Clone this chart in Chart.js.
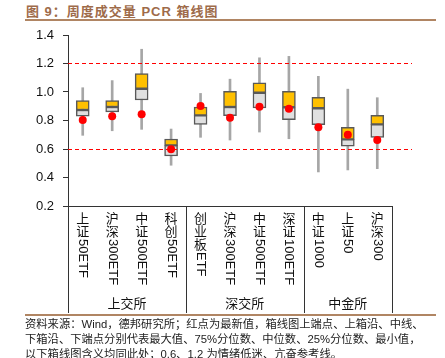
<!DOCTYPE html>
<html>
<head>
<meta charset="utf-8">
<script src="https://cdn.jsdelivr.net/npm/chart.js@4"></script>
<style>
  body { margin: 0; background: #fff; }
  #wrap { position: relative; width: 445px; height: 358px; overflow: hidden; font-family: "Liberation Sans", "Noto Sans CJK SC", sans-serif; }
  #title { position: absolute; left: 26px; top: 1px; font-size: 13px; font-weight: bold; color: #9e6b4a; letter-spacing: 1px; white-space: nowrap; }
  .rule { position: absolute; left: 25px; width: 411px; height: 2px; background: #b08563; }
  #note { position: absolute; left: 25px; top: 317px; font-size: 11.3px; line-height: 15px; color: #222; white-space: nowrap; }
  canvas { position: absolute; left: 0; top: 0; }
</style>
</head>
<body>
<div id="wrap">
  <div id="title">图 9：周度成交量 PCR 箱线图</div>
  <div class="rule" style="top:19px"></div>
  <canvas id="box" width="445" height="358"></canvas>
  <div class="rule" style="top:314px"></div>
  <div id="note">资料来源：Wind，德邦研究所；红点为最新值，箱线图上端点、上箱沿、中线、<br>下箱沿、下端点分别代表最大值、75%分位数、中位数、25%分位数、最小值，<br>以下箱线图含义均同此处；0.6、1.2 为情绪低迷、亢奋参考线。</div>
</div>
<script>
// --- Data ---
const labels = ["上证50ETF", "沪深300ETF", "中证500ETF", "科创50ETF", "创业板ETF", "沪深300ETF", "中证500ETF", "深证100ETF", "中证1000", "上证50", "沪深300"];
const groups = ["上交所", "深交所", "中金所"];
const groupSizes = [4, 4, 3];
const maxVals = [1.03, 1.08, 1.30, 0.74, 0.99, 1.09, 1.24, 1.25, 1.11, 1.02, 0.96];
const q3Vals = [0.94, 0.94, 1.13, 0.67, 0.895, 1.005, 1.065, 1.005, 0.963, 0.752, 0.836];
const medVals = [0.874, 0.895, 1.023, 0.626, 0.836, 0.895, 0.995, 0.893, 0.886, 0.668, 0.773];
const q1Vals = [0.831, 0.86, 0.944, 0.551, 0.773, 0.834, 0.888, 0.806, 0.771, 0.619, 0.682];
const minVals = [0.696, 0.728, 0.738, 0.486, 0.682, 0.663, 0.719, 0.672, 0.439, 0.453, 0.462];
const latestVals = [0.803, 0.829, 0.843, 0.598, 0.902, 0.82, 0.897, 0.883, 0.752, 0.70, 0.663];
const refLines = [0.6, 1.2];

// --- Plugins ---
const refLinePlugin = {
  id: "refLines",
  afterDatasetsDraw(chart) {
    const ctx = chart.ctx, y = chart.scales.y, area = chart.chartArea;
    ctx.save();
    ctx.strokeStyle = "#ff0000";
    ctx.lineWidth = 1.2;
    ctx.setLineDash([4, 3]);
    refLines.forEach(v => {
      const py = Math.round(y.getPixelForValue(v)) + 0.5;
      ctx.beginPath();
      ctx.moveTo(area.left, py);
      ctx.lineTo(area.right + 20, py);
      ctx.stroke();
    });
    ctx.restore();
  }
};

// CJK chars stay upright, latin runs are turned 90deg
function drawVertical(ctx, text, x, y) {
  const parts = text.match(/[\u4e00-\u9fff]|[^\u4e00-\u9fff]+/g);
  let cy = y;
  parts.forEach(p => {
    if (/[\u4e00-\u9fff]/.test(p)) {
      ctx.textAlign = "center";
      ctx.textBaseline = "top";
      ctx.fillText(p, x, cy);
      cy += 13;
    } else {
      ctx.save();
      ctx.translate(x, cy);
      ctx.rotate(Math.PI / 2);
      ctx.textAlign = "left";
      ctx.textBaseline = "middle";
      ctx.fillText(p, 0, 0);
      cy += ctx.measureText(p).width;
      ctx.restore();
    }
  });
}

const xLabelPlugin = {
  id: "xLabels",
  afterDraw(chart) {
    const ctx = chart.ctx, xs = chart.scales.x, area = chart.chartArea;
    const bottom = 313;
    ctx.save();
    ctx.fillStyle = "#111";
    ctx.font = '13px "Liberation Sans", "Noto Sans CJK SC"';
    labels.forEach((l, i) => drawVertical(ctx, l, xs.getPixelForValue(i), 213));

    // group separators and names
    ctx.strokeStyle = "#333";
    ctx.lineWidth = 1;
    let start = 0;
    const edges = [area.left];
    groupSizes.forEach(n => {
      const end = start + n;
      const xr = end < labels.length
        ? (xs.getPixelForValue(end - 1) + xs.getPixelForValue(end)) / 2
        : area.right;
      edges.push(xr);
      start = end;
    });
    edges.forEach(ex => {
      const px = Math.round(ex) + 0.5;
      ctx.beginPath();
      ctx.moveTo(px, area.bottom);
      ctx.lineTo(px, bottom);
      ctx.stroke();
    });
    ctx.font = '13px "Noto Sans CJK SC"';
    ctx.textAlign = "center";
    ctx.textBaseline = "middle";
    groups.forEach((g, i) => {
      ctx.fillText(g, (edges[i] + edges[i + 1]) / 2, 303);
    });
    ctx.restore();
  }
};

// --- Chart ---
new Chart(document.getElementById("box"), {
  type: "bar",
  data: {
    labels: labels,
    datasets: [
      {
        label: "range",
        data: minVals.map((v, i) => [v, maxVals[i]]),
        backgroundColor: "#a6a6a6",
        barThickness: 2,
        grouped: false,
        order: 3
      },
      {
        label: "lower",
        data: q1Vals.map((v, i) => [v, medVals[i]]),
        backgroundColor: "#e0e0e0",
        borderColor: "#595959",
        borderWidth: 1.5,
        borderSkipped: false,
        barThickness: 13,
        grouped: false,
        order: 2
      },
      {
        label: "upper",
        data: medVals.map((v, i) => [v, q3Vals[i]]),
        backgroundColor: "#ffc000",
        borderColor: "#595959",
        borderWidth: 1.5,
        borderSkipped: false,
        barThickness: 13,
        grouped: false,
        order: 2
      },
      {
        type: "line",
        label: "latest",
        data: latestVals,
        showLine: false,
        pointRadius: 4,
        pointBackgroundColor: "#ff0000",
        pointBorderWidth: 0,
        order: 1
      }
    ]
  },
  options: {
    responsive: false,
    animation: false,
    layout: { padding: { left: 24, right: 53, top: 35, bottom: 152 } },
    plugins: { legend: { display: false }, tooltip: { enabled: false } },
    scales: {
      x: {
        offset: true,
        grid: { drawOnChartArea: false, drawTicks: false },
        border: { display: true, color: "#333" },
        ticks: { display: false },
        afterFit: s => { s.height = 0; }
      },
      y: {
        min: 0.2,
        max: 1.4,
        grid: { drawOnChartArea: false, drawTicks: true, tickLength: 5, color: "#333" },
        border: { display: true, color: "#333" },
        ticks: {
          stepSize: 0.2,
          padding: 9,
          color: "#111",
          font: { family: "Liberation Sans", size: 13 },
          callback: v => v.toFixed(1)
        },
        afterFit: s => { s.width = 44; }
      }
    }
  },
  plugins: [refLinePlugin, xLabelPlugin]
});
</script>
</body>
</html>
